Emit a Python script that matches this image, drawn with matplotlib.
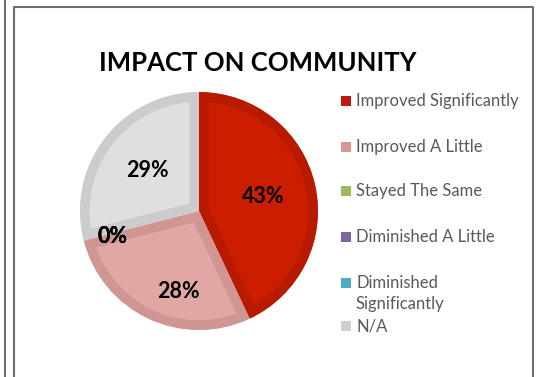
import numpy as np
import matplotlib
matplotlib.use("Agg")
import matplotlib.pyplot as plt
from matplotlib.patches import Rectangle

categories = ["Improved Significantly", "Improved A Little", "Stayed The Same",
              "Diminished A Little", "Diminished Significantly", "N/A"]
legend_text = ["Improved Significantly", "Improved A Little", "Stayed The Same",
               "Diminished A Little", "Diminished\nSignificantly", "N/A"]
values = [43, 28, 0, 0, 0, 29]
title = "IMPACT ON COMMUNITY"

# slice fill / bevel band / legend swatch
fills = ["#cc1d00", "#e0a7a5", "#9bbb59", "#8064a2", "#4bacc6", "#dfdfdf"]
bands = ["#b81a00", "#d09694", "#8aa84c", "#705890", "#3f98b0", "#cccccc"]
swatch = ["#c0180a", "#d99694", "#9bbb59", "#8064a2", "#4bacc6", "#d0d0d0"]

# label placement: radius fraction and clockwise nudge (deg) from slice middle
label_r = [0.55, 0.70, 0.76, 0.76, 0.76, 0.55]
label_turn = [0, -11, -2, -2, -2, 0]

W, H = 537, 377
plt.rcParams['font.family'] = ['Lato', 'DejaVu Sans']
fig = plt.figure(figsize=(W / 100, H / 100), dpi=100)

# pixel-space overlay for frame, title and legend
bg = fig.add_axes([0, 0, 1, 1])
bg.set_xlim(0, W)
bg.set_ylim(H, 0)
bg.axis("off")
bg.plot([5, 5], [0, H], color="#6e6e6e", lw=1.5)
bg.plot([13.5, 13.5, 533, 533], [H, 6.5, 6.5, H], color="#6e6e6e", lw=1.5)
bg.text(258, 63, title, ha="center", va="center", fontsize=18.5,
        fontweight="bold", color="black")

leg_y = [101, 147, 191, 237, 283, 326]
for txt, col, y in zip(legend_text, swatch, leg_y):
    bg.add_patch(Rectangle((340.5, y - 5), 10, 10, facecolor=col,
                           edgecolor="none"))
    bg.text(356, y - 8, txt, ha="left", va="top", fontsize=12,
            color="#595959", linespacing=1.35)

# pie
cx, cy, R = 199, 211, 119
ax = fig.add_axes([(cx - R) / W, (H - cy - R) / H, 2 * R / W, 2 * R / H])
wedges, _ = ax.pie(values, colors=fills, startangle=90, counterclock=False,
                   radius=1, wedgeprops=dict(linewidth=0))
for w, bc in zip(wedges, bands):
    w.set_edgecolor(bc)
    w.set_linewidth(14)
    w.set_clip_path(w)
    w.set_clip_on(True)

total = float(sum(values))
start = 0.0
for v, r, turn in zip(values, label_r, label_turn):
    mid = start + 360 * v / total / 2 + turn
    start += 360 * v / total
    th = np.deg2rad(mid)
    ax.text(r * np.sin(th), r * np.cos(th), "%d%%" % round(v / total * 100),
            ha="center", va="center", fontsize=15.5, fontweight="bold")
ax.set_xlim(-1, 1)
ax.set_ylim(-1, 1)
ax.set_aspect("equal")
ax.axis("off")

fig.savefig("out.png", dpi=100)
